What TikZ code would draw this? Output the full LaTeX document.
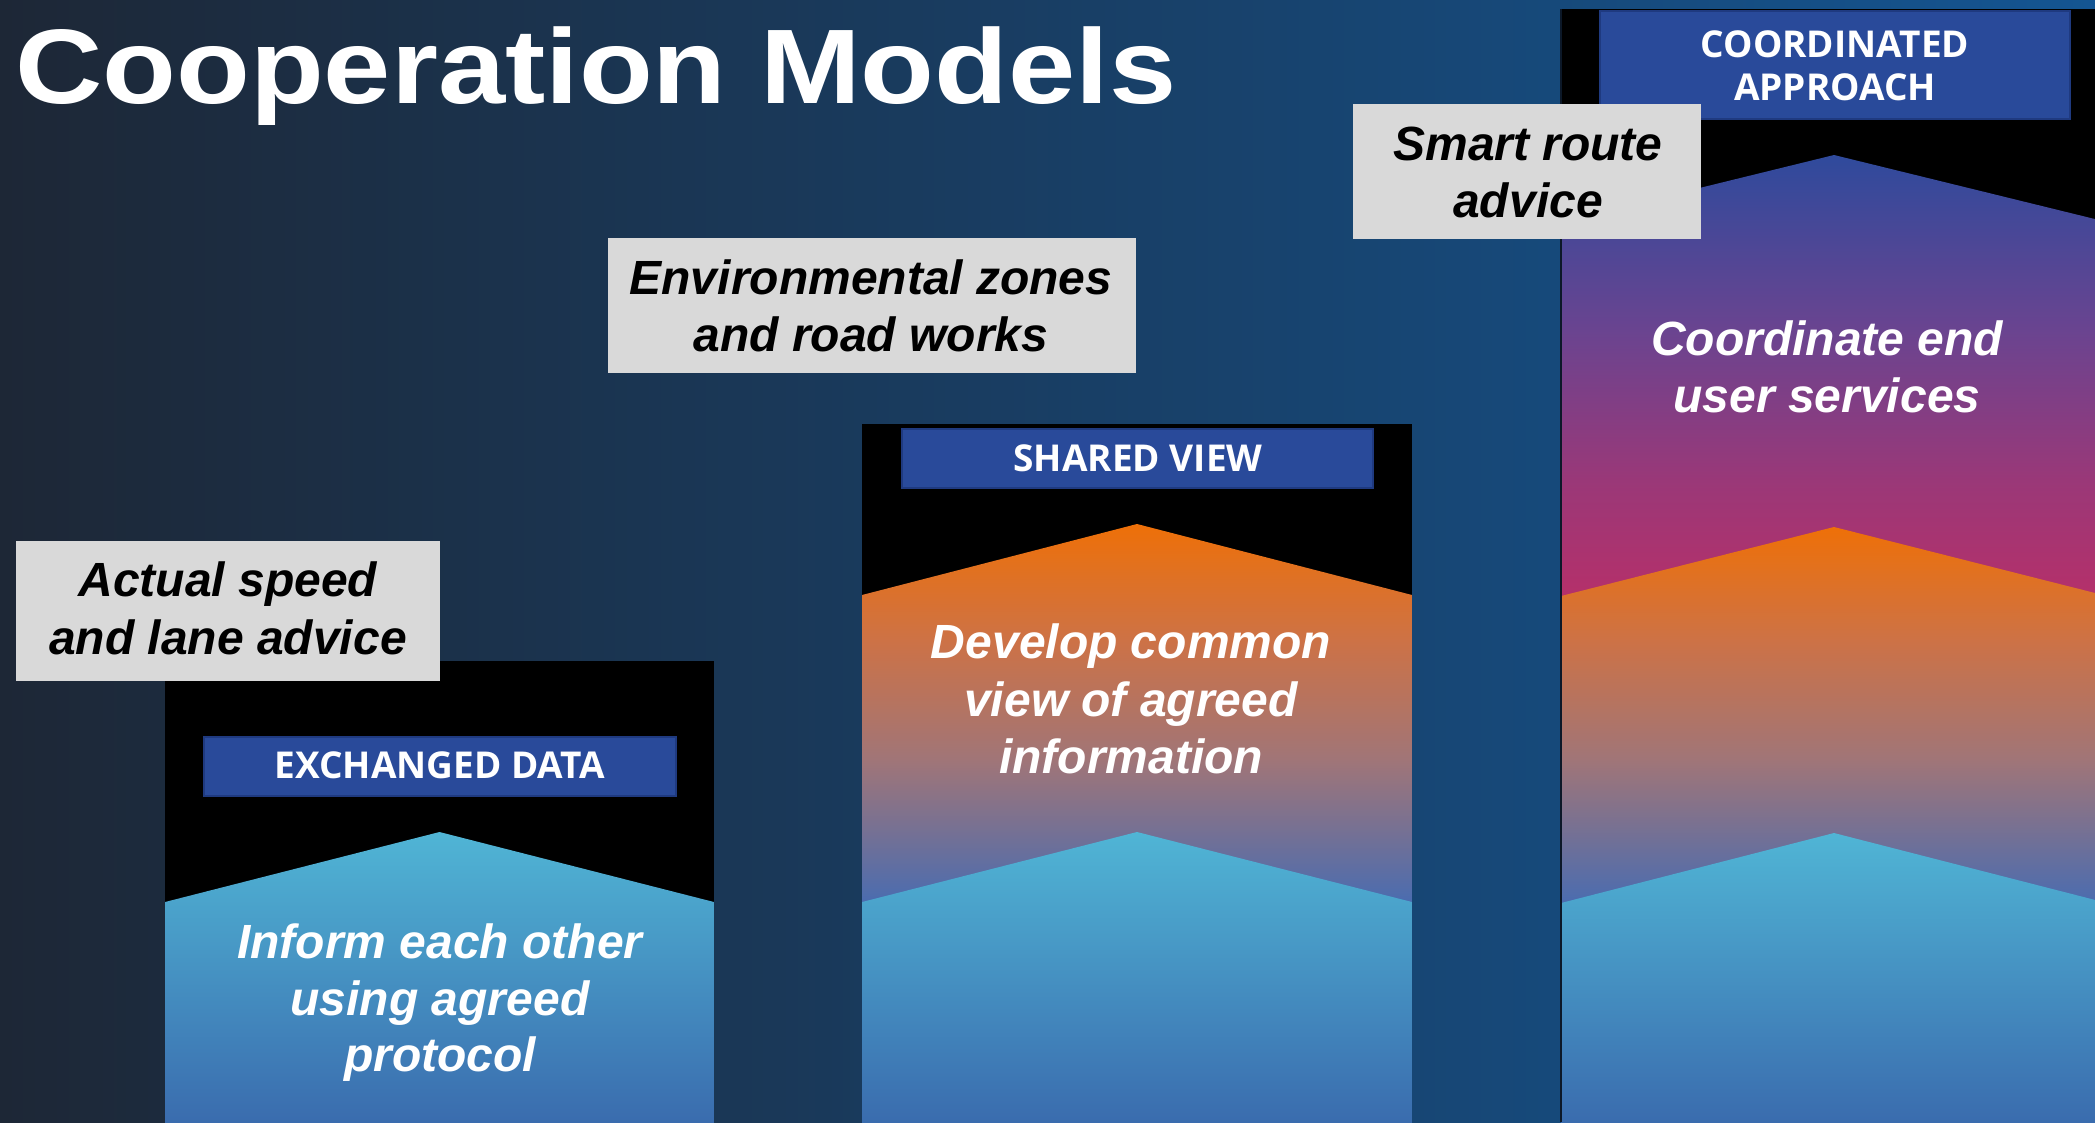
\documentclass[tikz,border=0pt]{standalone}
\usepackage{fontspec}
\usepackage{graphicx}
\setmainfont{Liberation Sans}
\newfontfamily\osans{Open Sans}
\definecolor{bgl}{RGB}{29,39,54}
\definecolor{bgr}{RGB}{20,85,146}
\definecolor{cyanA}{RGB}{80,181,213}
\definecolor{cyanB}{RGB}{58,108,174}
\definecolor{orA}{RGB}{238,112,8}
\definecolor{orB}{RGB}{205,114,70}
\definecolor{orC}{RGB}{160,117,120}
\definecolor{orD}{RGB}{74,108,176}
\definecolor{puA}{RGB}{47,74,156}
\definecolor{puB}{RGB}{106,68,144}
\definecolor{puC}{RGB}{154,56,120}
\definecolor{puD}{RGB}{181,48,106}
\definecolor{callgray}{RGB}{217,217,217}
\definecolor{labblue}{RGB}{41,74,154}
\definecolor{labborder}{RGB}{31,58,128}
\definecolor{edgeline}{RGB}{12,24,40}
\tikzset{
  calltext/.style={font=\bfseries\itshape\fontsize{48}{57.6}\selectfont, text=black, anchor=base, inner sep=0pt},
  intext/.style={calltext, text=white},
  labtext/.style={font=\osans\bfseries\fontsize{37}{44}\selectfont, text=white, anchor=base, inner sep=0pt},
  callbox/.style={fill=callgray, draw=none, inner sep=0pt},
  labbox/.style={fill=labblue, draw=labborder, line width=1.2pt, inner sep=0pt},
  colblack/.style={fill=black},
}
\begin{document}
\begin{tikzpicture}[x=1pt,y=1pt]
\useasboundingbox (0,0) rectangle (2095,-1122);
\clip (0,0) rectangle (2095,-1122);
% background
\shade[left color=bgl, right color=bgr] (0,0) rectangle (2095,-1122);

% ---------- column 1 ----------
\fill[colblack] (165,-661) rectangle (714,-1122);
\begin{scope}
  \clip (165,-902) -- (439.5,-832) -- (714,-902) -- (714,-1123) -- (165,-1123) -- cycle;
  \shade[top color=cyanA, bottom color=cyanB] (165,-832) rectangle (714,-1122);
\end{scope}

% ---------- column 2 ----------
\fill[colblack] (862,-424) rectangle (1412,-1122);
\begin{scope}
  \clip (862,-595) -- (1137,-524) -- (1412,-595) -- (1412,-1123) -- (862,-1123) -- cycle;
  \shade[top color=orA, bottom color=orB] (862,-524) rectangle (1412,-641);
  \shade[top color=orB, bottom color=orC] (862,-640) rectangle (1412,-761);
  \shade[top color=orC, bottom color=orD] (862,-760) rectangle (1412,-903);
  \fill[orD] (862,-902) rectangle (1412,-1122);
\end{scope}
\begin{scope}
  \clip (862,-902) -- (1137,-832) -- (1412,-902) -- (1412,-1123) -- (862,-1123) -- cycle;
  \shade[top color=cyanA, bottom color=cyanB] (862,-832) rectangle (1412,-1122);
\end{scope}

% ---------- column 3 ----------
\fill[colblack] (1561,-9) rectangle (2107,-1122);
\begin{scope}
  \clip (1561,-222) -- (1834,-155) -- (2107,-222) -- (2107,-1123) -- (1561,-1123) -- cycle;
  \shade[top color=puA, bottom color=puB] (1561,-155) rectangle (2107,-331);
  \shade[top color=puB, bottom color=puC] (1561,-330) rectangle (2107,-481);
  \shade[top color=puC, bottom color=puD] (1561,-480) rectangle (2107,-598);
  \fill[puD] (1561,-597) rectangle (2107,-1122);
\end{scope}
\begin{scope}
  \clip (1561,-596) -- (1834,-527) -- (2107,-596) -- (2107,-1123) -- (1561,-1123) -- cycle;
  \shade[top color=orA, bottom color=orB] (1561,-527) rectangle (2107,-641);
  \shade[top color=orB, bottom color=orC] (1561,-640) rectangle (2107,-761);
  \shade[top color=orC, bottom color=orD] (1561,-760) rectangle (2107,-904);
  \fill[orD] (1561,-903) rectangle (2107,-1122);
\end{scope}
\begin{scope}
  \clip (1561,-903) -- (1834,-833) -- (2107,-903) -- (2107,-1123) -- (1561,-1123) -- cycle;
  \shade[top color=cyanA, bottom color=cyanB] (1561,-833) rectangle (2107,-1122);
\end{scope}
\draw[edgeline, line width=1.5pt] (1561,-9) -- (1561,-1122);

% ---------- label boxes ----------
\node[labbox, minimum width=472, minimum height=59] (exbox) at (440,-766.5) {};
\node[labtext] (exlab) at (440,-778) {EXCHANGED DATA};
\node[labbox, minimum width=471, minimum height=59] (svbox) at (1137.5,-458.5) {};
\node[labtext] (svlab) at (1138,-471) {SHARED VIEW};
\node[labbox, minimum width=470, minimum height=108] (cabox) at (1835,-65) {};
\node[labtext] (calabA) at (1835,-57) {COORDINATED};
\node[labtext] (calabB) at (1835,-100) {APPROACH};

% ---------- texts in columns ----------
\node[intext] (c1a) at (440,-958) {Inform each other};
\node[intext] (c1b) at (440,-1015) {using agreed};
\node[intext] (c1c) at (440,-1071) {protocol};
\node[intext] (c2a) at (1131,-658) {Develop common};
\node[intext] (c2b) at (1131,-716) {view of agreed};
\node[intext] (c2c) at (1131,-773) {information};
\node[intext] (c3a) at (1827,-355) {Coordinate end};
\node[intext] (c3b) at (1827,-412) {user services};

% ---------- callout boxes ----------
\node[callbox, minimum width=424, minimum height=140] (box1) at (228,-611) {};
\node[calltext] (b1a) at (228,-596) {Actual speed};
\node[calltext] (b1b) at (228,-654) {and lane advice};
\node[callbox, minimum width=528, minimum height=135] (box2) at (872,-305.5) {};
\node[calltext] (b2a) at (871,-294) {Environmental zones};
\node[calltext] (b2b) at (871,-351) {and road works};
\node[callbox, minimum width=348, minimum height=135] (box3) at (1527,-171.5) {};
\node[calltext] (b3a) at (1528,-160) {Smart route};
\node[calltext] (b3b) at (1528,-217) {advice};

% ---------- title ----------
\node[anchor=base west, inner sep=0pt, text=white, font=\bfseries\fontsize{106}{120}\selectfont] (title) at (15,-103) {\scalebox{1.14}[1]{Cooperation Models}};
\end{tikzpicture}
\end{document}
